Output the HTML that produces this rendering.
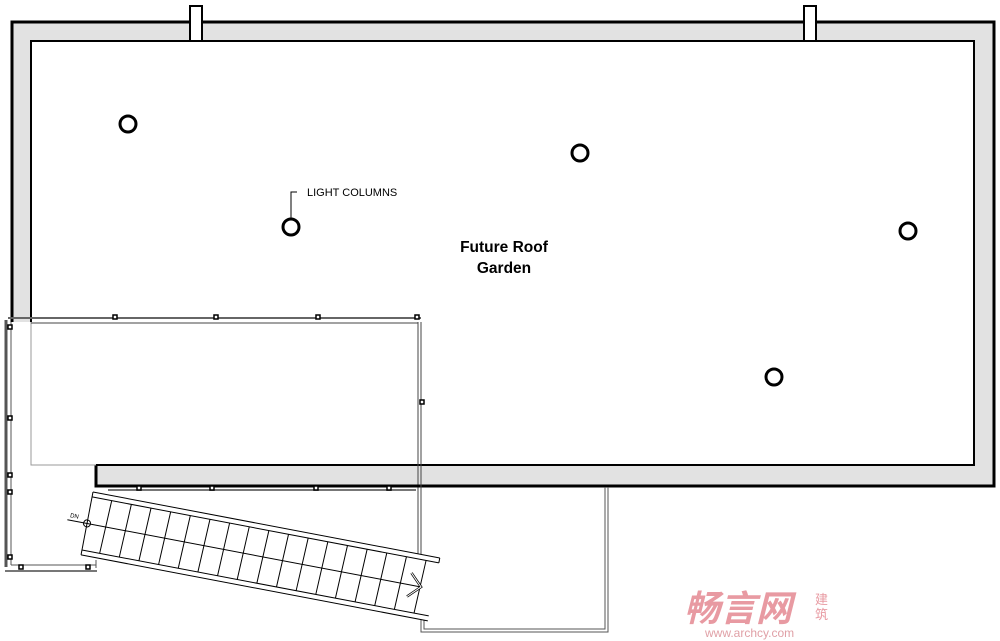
<!DOCTYPE html>
<html><head><meta charset="utf-8"><style>
html,body{margin:0;padding:0;background:#fff;}
svg{display:block;}
</style></head><body>
<svg width="1000" height="641" viewBox="0 0 1000 641" xmlns="http://www.w3.org/2000/svg" font-family="Liberation Sans, Arial, sans-serif">
<path d="M12,22 H994 V486 H96 V465 H31 V322 H12 Z" fill="#e2e2e2"/>
<rect x="31" y="41" width="943" height="424" fill="#fff"/>
<path d="M12,322 V22 H994 V486 H96 V465" fill="none" stroke="#000" stroke-width="3"/>
<path d="M31,322 V41 H974 V465 H96" fill="none" stroke="#000" stroke-width="2"/>
<path d="M31,322 V465 H96" fill="none" stroke="#999" stroke-width="1"/>
<rect x="190" y="6" width="12" height="35" fill="#fff" stroke="#000" stroke-width="2"/>
<rect x="804" y="6" width="12" height="35" fill="#fff" stroke="#000" stroke-width="2"/>
<line x1="8" y1="318" x2="421" y2="318" stroke="#666" stroke-width="2"/>
<line x1="31" y1="323" x2="418" y2="323" stroke="#444" stroke-width="1"/>
<line x1="418" y1="322" x2="418" y2="555" stroke="#444" stroke-width="1"/>
<line x1="421" y1="322" x2="421" y2="555" stroke="#444" stroke-width="1"/>
<line x1="6" y1="320" x2="6" y2="567" stroke="#555" stroke-width="3"/>
<line x1="11" y1="322" x2="11" y2="565" stroke="#555" stroke-width="1"/>
<line x1="11" y1="565" x2="96" y2="565" stroke="#555" stroke-width="1"/>
<line x1="5" y1="571" x2="97" y2="571" stroke="#777" stroke-width="2"/>
<line x1="96" y1="560" x2="96" y2="568" stroke="#555" stroke-width="1"/>
<line x1="96" y1="486" x2="420" y2="486" stroke="#000" stroke-width="3"/>
<line x1="108" y1="490" x2="416" y2="490" stroke="#777" stroke-width="2"/>
<g fill="#fff" stroke="#000" stroke-width="1.5">
<rect x="113" y="315" width="4" height="4"/><rect x="214" y="315" width="4" height="4"/><rect x="316" y="315" width="4" height="4"/><rect x="415" y="315" width="4" height="4"/>
<rect x="8" y="325" width="4" height="4"/><rect x="8" y="416" width="4" height="4"/><rect x="8" y="473" width="4" height="4"/><rect x="8" y="490" width="4" height="4"/><rect x="8" y="555" width="4" height="4"/>
<rect x="19" y="565" width="4" height="4"/><rect x="86" y="565" width="4" height="4"/>
<rect x="420" y="400" width="4" height="4"/>
<rect x="137" y="486" width="4" height="4"/><rect x="210" y="486" width="4" height="4"/><rect x="314" y="486" width="4" height="4"/><rect x="387" y="486" width="4" height="4"/>
</g>
<path d="M608,487 V632 H421 V620" fill="none" stroke="#555" stroke-width="1"/>
<path d="M605,487 V629 H424 V620" fill="none" stroke="#555" stroke-width="1"/>
<g transform="translate(93,492) rotate(10.77)">
<rect x="0" y="0" width="353" height="64" fill="#fff" stroke="none"/>
<line x1="0" y1="0" x2="353" y2="0" stroke="#000" stroke-width="1"/>
<line x1="0" y1="5" x2="353" y2="5" stroke="#000" stroke-width="1"/>
<line x1="353" y1="0" x2="353" y2="5" stroke="#000" stroke-width="1"/>
<line x1="0" y1="59" x2="353" y2="59" stroke="#000" stroke-width="1"/>
<line x1="0" y1="64" x2="353" y2="64" stroke="#000" stroke-width="1"/>
<line x1="0" y1="0" x2="0" y2="64" stroke="#000" stroke-width="1"/>
<line x1="-20" y1="32" x2="340" y2="32" stroke="#000" stroke-width="1"/>
<g stroke="#000" stroke-width="1">
<line x1="20" y1="5" x2="18" y2="59"/><line x1="40" y1="5" x2="38" y2="59"/><line x1="60" y1="5" x2="58" y2="59"/><line x1="80" y1="5" x2="78" y2="59"/><line x1="100" y1="5" x2="98" y2="59"/><line x1="120" y1="5" x2="118" y2="59"/><line x1="140" y1="5" x2="138" y2="59"/><line x1="160" y1="5" x2="158" y2="59"/><line x1="180" y1="5" x2="178" y2="59"/><line x1="200" y1="5" x2="198" y2="59"/><line x1="220" y1="5" x2="218" y2="59"/><line x1="240" y1="5" x2="238" y2="59"/><line x1="260" y1="5" x2="258" y2="59"/><line x1="280" y1="5" x2="278" y2="59"/><line x1="300" y1="5" x2="298" y2="59"/><line x1="320" y1="5" x2="318" y2="59"/><line x1="340" y1="5" x2="338" y2="59"/>
</g>
<path d="M328,20 L340,32 L328,44" fill="none" stroke="#000" stroke-width="2.5"/>
<path d="M328,20 L340,32 L328,44" fill="none" stroke="#fff" stroke-width="1"/>
<circle cx="0" cy="32" r="3.5" fill="none" stroke="#000" stroke-width="1"/>
<text x="-18" y="29" font-size="6" fill="#000">DN</text>
</g>
<g fill="none" stroke="#000" stroke-width="3">
<circle cx="128" cy="124" r="8"/><circle cx="580" cy="153" r="8"/><circle cx="291" cy="227" r="8"/><circle cx="908" cy="231" r="8"/><circle cx="774" cy="377" r="8"/>
</g>
<path d="M291,218 V192 H297" fill="none" stroke="#000" stroke-width="1"/>
<text x="307" y="196" font-size="11" fill="#000">LIGHT COLUMNS</text>
<text x="504" y="252" font-size="15.5" font-weight="bold" text-anchor="middle" fill="#000">Future Roof</text>
<text x="504" y="273" font-size="15.5" font-weight="bold" text-anchor="middle" fill="#000">Garden</text>
<text x="684" y="621" font-size="36" font-weight="bold" font-style="italic" fill="#e89aa2" font-family="Liberation Sans, Noto Sans CJK SC, sans-serif">畅言网</text>
<text x="815" y="604" font-size="13" fill="#e89aa2" font-family="Noto Sans CJK SC, sans-serif">建</text>
<text x="815" y="619" font-size="13" fill="#e89aa2" font-family="Noto Sans CJK SC, sans-serif">筑</text>
<text x="705" y="637" font-size="12" fill="#e0a0a6">www.archcy.com</text>
</svg>
</body></html>
